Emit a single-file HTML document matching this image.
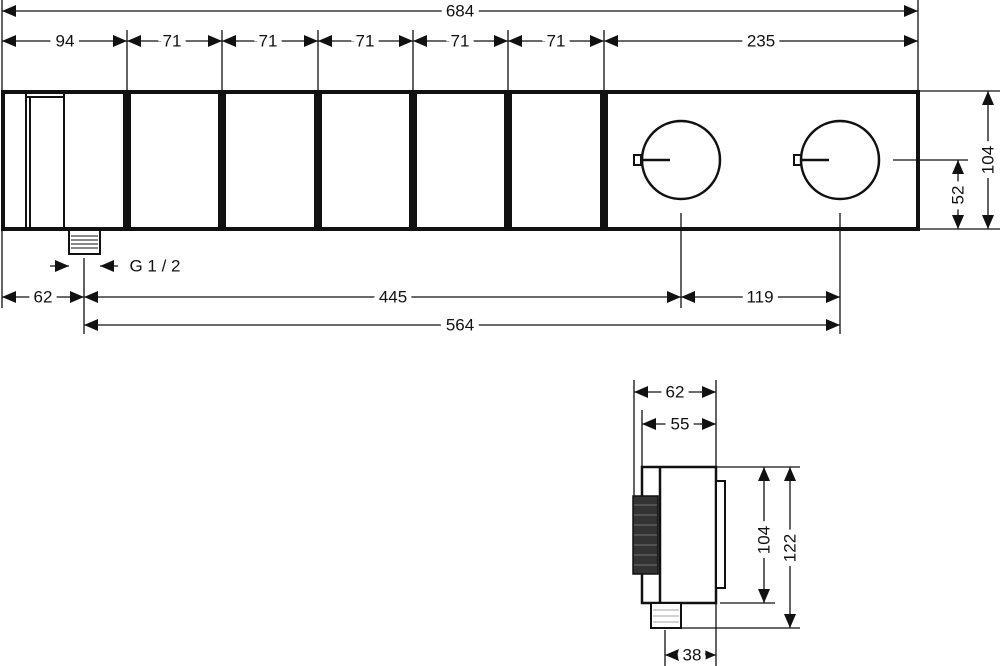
<!DOCTYPE html>
<html><head><meta charset="utf-8"><style>
html,body{margin:0;padding:0;background:#fff}
svg{display:block}
text{font-family:"Liberation Sans",sans-serif;font-size:17px;fill:#111;paint-order:stroke;stroke:#fff;stroke-width:10px;text-anchor:middle;dominant-baseline:central}
</style></head><body>
<svg width="1000" height="666" viewBox="0 0 1000 666" xmlns="http://www.w3.org/2000/svg">
<defs>
<marker id="a" markerUnits="userSpaceOnUse" markerWidth="14" markerHeight="12" refX="14" refY="6" orient="auto-start-reverse"><path d="M0,0 L14,6 L0,12 Z" fill="#111"/></marker>
</defs>
<g stroke="#111" stroke-width="1.3" fill="none">
<line x1="2" y1="0" x2="2" y2="92"/><line x1="918" y1="0" x2="918" y2="92"/>
<line x1="127" y1="30" x2="127" y2="92"/><line x1="222" y1="30" x2="222" y2="92"/><line x1="318" y1="30" x2="318" y2="92"/><line x1="413" y1="30" x2="413" y2="92"/><line x1="508" y1="30" x2="508" y2="92"/><line x1="604" y1="30" x2="604" y2="92"/>
<line x1="2" y1="11" x2="918" y2="11" marker-start="url(#a)" marker-end="url(#a)"/>
<line x1="2" y1="41" x2="127" y2="41" marker-start="url(#a)" marker-end="url(#a)"/>
<line x1="127" y1="41" x2="222" y2="41" marker-start="url(#a)" marker-end="url(#a)"/>
<line x1="222" y1="41" x2="318" y2="41" marker-start="url(#a)" marker-end="url(#a)"/>
<line x1="318" y1="41" x2="413" y2="41" marker-start="url(#a)" marker-end="url(#a)"/>
<line x1="413" y1="41" x2="508" y2="41" marker-start="url(#a)" marker-end="url(#a)"/>
<line x1="508" y1="41" x2="604" y2="41" marker-start="url(#a)" marker-end="url(#a)"/>
<line x1="604" y1="41" x2="918" y2="41" marker-start="url(#a)" marker-end="url(#a)"/>
</g>
<g stroke="#111" stroke-width="4" fill="#fff">
<rect x="3" y="92" width="122" height="137"/>
<rect x="129" y="92" width="91" height="137"/>
<rect x="224" y="92" width="92" height="137"/>
<rect x="320" y="92" width="91" height="137"/>
<rect x="415" y="92" width="91" height="137"/>
<rect x="510" y="92" width="92" height="137"/>
<rect x="606" y="92" width="312" height="137"/>
</g>
<g stroke="#111" stroke-width="2" fill="none">
<rect x="26" y="93" width="38" height="135"/>
<line x1="30" y1="97" x2="30" y2="228"/><line x1="26" y1="97" x2="64" y2="97"/>
<rect x="69" y="230" width="31" height="24" stroke-width="2"/>
</g>
<g stroke="#111" stroke-width="1">
<line x1="71" y1="236" x2="98" y2="236"/><line x1="71" y1="240" x2="98" y2="240"/><line x1="71" y1="244" x2="98" y2="244"/><line x1="71" y1="248" x2="98" y2="248"/>
</g>
<g stroke="#111" stroke-width="2.5" fill="none">
<circle cx="681" cy="160" r="39"/><circle cx="840" cy="160" r="39"/>
<rect x="634" y="155" width="7" height="10" stroke-width="2"/><line x1="641" y1="160" x2="670" y2="160"/>
<rect x="794" y="155" width="7" height="10" stroke-width="2"/><line x1="801" y1="160" x2="829" y2="160"/>
</g>
<g stroke="#111" stroke-width="1.3" fill="none">
<line x1="84" y1="258" x2="84" y2="334"/>
<line x1="2" y1="230" x2="2" y2="308"/>
<line x1="50" y1="266" x2="69" y2="266" marker-end="url(#a)"/>
<line x1="118" y1="266" x2="100" y2="266" marker-end="url(#a)"/>
<line x1="681" y1="213" x2="681" y2="308"/>
<line x1="840" y1="213" x2="840" y2="334"/>
<line x1="2" y1="297" x2="84" y2="297" marker-start="url(#a)" marker-end="url(#a)"/>
<line x1="84" y1="297" x2="681" y2="297" marker-start="url(#a)" marker-end="url(#a)"/>
<line x1="681" y1="297" x2="840" y2="297" marker-start="url(#a)" marker-end="url(#a)"/>
<line x1="84" y1="325" x2="840" y2="325" marker-start="url(#a)" marker-end="url(#a)"/>
<line x1="920" y1="91" x2="1000" y2="91"/><line x1="920" y1="229" x2="1000" y2="229"/>
<line x1="893" y1="160" x2="968" y2="160"/>
<line x1="988" y1="91" x2="988" y2="229" marker-start="url(#a)" marker-end="url(#a)"/>
<line x1="958" y1="160" x2="958" y2="229" marker-start="url(#a)" marker-end="url(#a)"/>
</g>
<g stroke="#111" stroke-width="1.3" fill="none">
<line x1="634" y1="380" x2="634" y2="496"/><line x1="642" y1="410" x2="642" y2="467"/><line x1="716" y1="380" x2="716" y2="666"/>
<line x1="634" y1="392" x2="716" y2="392" marker-start="url(#a)" marker-end="url(#a)"/>
<line x1="642" y1="424" x2="716" y2="424" marker-start="url(#a)" marker-end="url(#a)"/>
<line x1="716" y1="467" x2="800" y2="467"/><line x1="720" y1="603" x2="775" y2="603"/><line x1="681" y1="628" x2="800" y2="628"/>
<line x1="764" y1="467" x2="764" y2="603" marker-start="url(#a)" marker-end="url(#a)"/>
<line x1="790" y1="467" x2="790" y2="628" marker-start="url(#a)" marker-end="url(#a)"/>
<line x1="665" y1="630" x2="665" y2="666"/>
<line x1="665" y1="655" x2="716" y2="655" marker-start="url(#a)" marker-end="url(#a)"/>
</g>
<g stroke="#111" stroke-width="2.5" fill="#fff">
<rect x="642" y="467" width="74" height="136"/>
<line x1="660" y1="467" x2="660" y2="603"/>
<rect x="716" y="481" width="9" height="107" stroke-width="2"/>
<rect x="651" y="603" width="30" height="25" stroke-width="2"/>
</g>
<rect x="633" y="496" width="25" height="78" fill="#333" stroke="#111" stroke-width="1.5"/>
<g stroke="#888" stroke-width="0.8">
<line x1="634" y1="505" x2="657" y2="505"/><line x1="634" y1="515" x2="657" y2="515"/><line x1="634" y1="525" x2="657" y2="525"/><line x1="634" y1="535" x2="657" y2="535"/><line x1="634" y1="545" x2="657" y2="545"/><line x1="634" y1="555" x2="657" y2="555"/><line x1="634" y1="565" x2="657" y2="565"/>
<line x1="653" y1="610" x2="679" y2="610"/><line x1="653" y1="616" x2="679" y2="616"/><line x1="653" y1="622" x2="679" y2="622"/>
</g>
<text x="460" y="11">684</text>
<text x="65" y="41">94</text>
<text x="172" y="41">71</text><text x="268" y="41">71</text><text x="365" y="41">71</text><text x="460" y="41">71</text><text x="556" y="41">71</text>
<text x="761" y="41">235</text>
<text x="43" y="297">62</text><text x="393" y="297">445</text><text x="760" y="297">119</text><text x="460" y="325">564</text>
<text x="155" y="266">G 1 / 2</text>
<text x="675" y="392">62</text><text x="680" y="424">55</text><text x="692" y="655">38</text>
<text transform="translate(988,160) rotate(-90)">104</text>
<text transform="translate(958,195) rotate(-90)">52</text>
<text transform="translate(764,540) rotate(-90)">104</text>
<text transform="translate(790,548) rotate(-90)">122</text>
</svg>
</body></html>
